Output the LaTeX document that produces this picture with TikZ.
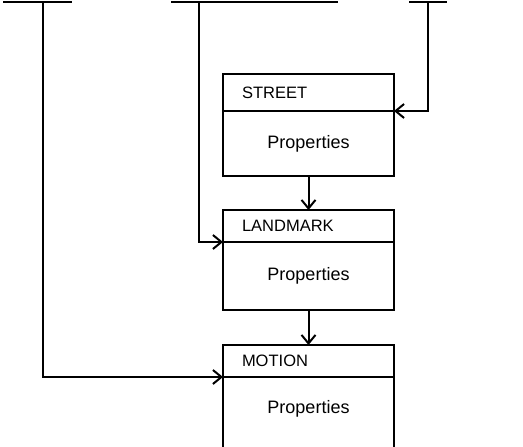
\documentclass[tikz,border=0pt]{standalone}
\usepackage{fontspec}
\setmainfont{Liberation Sans}
\usetikzlibrary{arrows.meta}
\begin{document}
\begin{tikzpicture}[x=1pt,y=-1pt,
  line width=2pt,
  hbox/.style={draw, outer sep=0pt, minimum width=171pt, inner xsep=19pt, text width=133pt, align=left, inner ysep=0pt, font=\fontsize{16.5}{18}\selectfont},
  bbox/.style={draw, outer sep=0pt, minimum width=171pt, inner sep=0pt, font=\fontsize{18}{20}\selectfont},
  proptext/.style={inner sep=0pt, font=\fontsize{18}{20}\selectfont},
  conn/.style={line width=2pt, -{Straight Barb[length=8.5pt,width=14pt,line width=2pt]}},
  bar/.style={line width=2pt}]
\useasboundingbox (0,0) rectangle (523,447);
\clip (0,0) rectangle (523,447);
% boxes
\node[hbox, minimum height=37pt] (sh) at (308.5,92.5) {STREET};
\node[bbox, minimum height=65pt, anchor=north] (sb) at (sh.south) {Properties};
\node[hbox, minimum height=32pt] (lh) at (308.5,226) {LANDMARK};
\node[bbox, minimum height=68pt, anchor=north] (lb) at (lh.south) {Properties};
\node[hbox, minimum height=32pt] (mh) at (308.5,361) {MOTION};
\node[bbox, minimum height=84pt, anchor=north] (mb) at (mh.south) {};
\node[proptext] (mp) at (308.5,409) {Properties};
% top bars
\coordinate (barLa) at (3,1.5);
\coordinate (barLb) at (72,1.5);
\coordinate (dropL) at (43,1.5);
\coordinate (barMa) at (171,1.5);
\coordinate (barMb) at (338,1.5);
\coordinate (dropM) at (199,1.5);
\coordinate (barRa) at (409,1.5);
\coordinate (barRb) at (447,1.5);
\coordinate (dropR) at (428,1.5);
\draw[bar] (barLa) -- (barLb);
\draw[bar] (barMa) -- (barMb);
\draw[bar] (barRa) -- (barRb);
% connectors
\draw[conn] (dropL) |- (mh.south west);
\draw[conn] (dropM) |- (lh.south west);
\draw[conn] (dropR) |- (sh.south east);
\draw[conn] (sb.south) -- (lh.north);
\draw[conn] (lb.south) -- (mh.north);
\end{tikzpicture}
\end{document}
